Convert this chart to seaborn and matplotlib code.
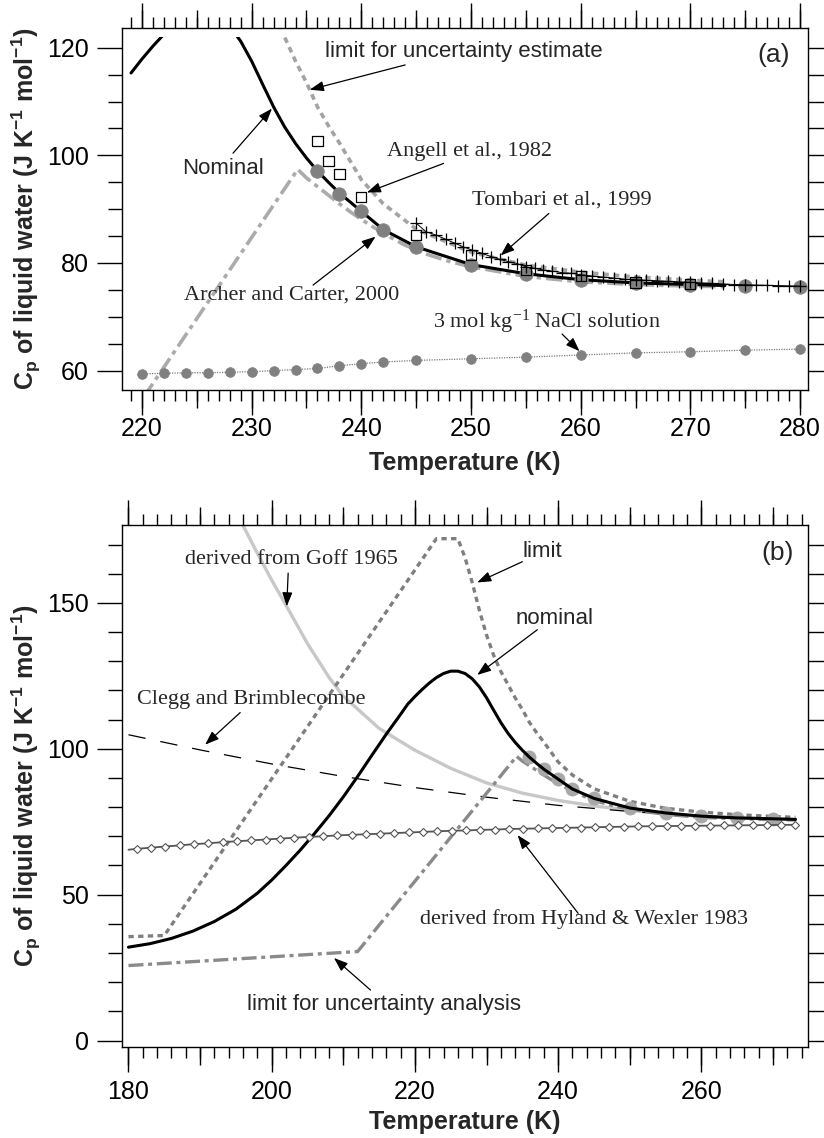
import numpy as np
import pandas as pd
import matplotlib
matplotlib.use("Agg")
import matplotlib.pyplot as plt
from matplotlib.patches import Rectangle
from matplotlib.ticker import MultipleLocator
import seaborn as sns

# ---------------- data ----------------
nominal_T = [180, 183, 186, 189, 192, 195, 198, 200, 202, 204, 206, 208, 210, 212, 214, 216, 218,
             219, 220, 221, 222, 223, 224, 225, 226, 227, 228, 229, 230, 231, 232, 233, 234, 235,
             236, 237, 238, 240, 242, 245, 250, 255, 260, 265, 270, 273.15]
nominal_cp = [32.0, 33.2, 35.0, 37.5, 40.8, 45.0, 50.5, 55.0, 60.0, 65.3, 71.0, 77.0, 83.5, 90.5,
              97.8, 105.0, 111.8, 115.3, 117.9, 120.3, 122.5, 124.4, 125.8, 126.6, 126.6, 125.8,
              124.0, 121.2, 117.5, 113.2, 109.0, 105.3, 102.2, 99.5, 97.1, 95.0, 93.0, 89.6, 86.2,
              83.0, 79.7, 78.0, 76.9, 76.3, 76.0, 75.8]

limit_T = [180, 185, 223, 226, 227, 228, 229, 230, 231, 232, 233, 234, 235, 236, 237, 238, 240,
           242, 245, 250, 255, 260, 265, 270, 273.15]
limit_cp = [35.6, 36.0, 172.0, 172.0, 165.5, 157.0, 147.5, 139.0, 132.0, 126.5, 122.0, 117.5,
            113.5, 109.0, 105.5, 102.3, 95.5, 91.0, 86.3, 82.0, 79.6, 78.3, 77.4, 76.8, 76.5]

unc_T = [180, 212, 234.2, 235, 236, 237, 238, 239, 240, 242, 244, 246, 248, 250, 255, 260, 265,
         270, 273.15]
unc_cp = [25.7, 30.5, 97.4, 95.8, 94.2, 92.6, 91.0, 89.5, 88.1, 85.5, 83.3, 81.6, 80.3, 79.3,
          77.5, 76.5, 76.0, 75.7, 75.6]

archer_T = [236, 238, 240, 242, 245, 250, 255, 260, 265, 270, 275, 280]
archer_cp = [97.1, 92.9, 89.7, 86.1, 83.0, 79.6, 78.0, 76.9, 76.2, 76.0, 75.8, 75.6]

angell_T = [236, 237, 238, 240, 245, 250, 255, 260, 265, 270]
angell_cp = [102.7, 99.0, 96.5, 92.3, 85.2, 81.5, 78.7, 77.6, 76.4, 76.1]

tombari_T = [245.0, 245.9, 246.8, 247.7, 248.5, 249.3, 250.1, 251.0, 251.8, 252.6, 253.4, 254.2,
             255.0, 255.8, 256.6, 257.4, 258.3, 259.1, 260.0, 261, 262, 263, 264, 265, 266, 267,
             268, 269, 270, 271, 272, 273, 274, 275, 276, 277, 278, 279, 280]
tombari_cp = [87.4, 85.8, 85.2, 84.4, 83.7, 83.0, 82.4, 81.8, 81.2, 80.7, 80.25, 79.9, 79.3, 79.0,
              78.7, 78.5, 78.2, 78.1, 77.8, 77.6, 77.4, 77.2, 77.0, 76.9, 76.8, 76.7, 76.6, 76.5,
              76.4, 76.3, 76.2, 76.1, 76.0, 75.95, 75.9, 75.85, 75.8, 75.75, 75.7]

nacl_T = [220, 222, 224, 226, 228, 230, 232, 234, 236, 238, 240, 242, 245, 250, 255, 260, 265,
          270, 275, 280]
nacl_cp = [59.4, 59.5, 59.6, 59.6, 59.7, 59.8, 60.0, 60.2, 60.4, 60.9, 61.3, 61.6, 61.9, 62.2,
           62.5, 62.9, 63.3, 63.5, 63.8, 64.0]

goff_T = [195, 196, 198, 200, 202, 205, 208, 210, 215, 220, 225, 230, 235, 240, 245, 250, 255,
          260, 265, 270, 273.15]
goff_cp = [181.0, 176.5, 167.0, 157.8, 149.2, 136.0, 124.5, 118.0, 107.0, 99.5, 93.3, 88.3, 84.8,
           82.3, 80.4, 79.0, 77.6, 76.8, 76.3, 75.9, 75.7]

clegg_T = [180, 190, 200, 210, 220, 230, 240, 250, 260, 270, 273.15]
clegg_cp = [104.8, 99.6, 94.8, 90.5, 86.7, 83.4, 80.6, 78.5, 77.0, 76.0, 75.8]

hyland_T = [180, 181.15, 183.15, 185.15, 187.15, 189.15, 191.15, 193.15, 195.15, 197.15, 199.15,
            201.15, 203.15, 205.15, 207.15, 209.15, 211.15, 213.15, 215.15, 217.15, 219.15,
            221.15, 223.15, 225.15, 227.15, 229.15, 231.15, 233.15, 235.15, 237.15, 239.15,
            241.15, 243.15, 245.15, 247.15, 249.15, 251.15, 253.15, 255.15, 257.15, 259.15,
            261.15, 263.15, 265.15, 267.15, 269.15, 271.15, 273.15]
hyland_cp = [65.4, 65.7, 66.1, 66.5, 66.9, 67.3, 67.6, 68.0, 68.3, 68.6, 68.9, 69.2, 69.5, 69.8,
             70.0, 70.3, 70.5, 70.7, 70.9, 71.1, 71.3, 71.5, 71.7, 71.9, 72.0, 72.2, 72.3, 72.5,
             72.6, 72.7, 72.8, 72.9, 73.0, 73.1, 73.2, 73.3, 73.4, 73.45, 73.5, 73.55, 73.6,
             73.65, 73.7, 73.75, 73.8, 73.85, 73.9, 73.95]

# ---------------- style ----------------
sns.set_theme(style="ticks")
plt.rcParams["font.family"] = ["Liberation Sans", "DejaVu Sans"]
plt.rcParams["axes.edgecolor"] = "black"
plt.rcParams["axes.linewidth"] = 1.0
plt.rcParams["xtick.color"] = "black"
plt.rcParams["ytick.color"] = "black"

SANS = "Liberation Sans"
SERIF = "Liberation Serif"
FS = 16

fig = plt.figure(figsize=(8.24, 11.38), dpi=100)
axA = fig.add_axes([0.1481, 0.6573, 0.8325, 0.3178])
axB = fig.add_axes([0.1481, 0.0800, 0.8325, 0.4587])

ylabel = r"C$\mathregular{_p}$ of liquid water (J K$\mathregular{^{-1}}$ mol$\mathregular{^{-1}}$)"


def setup(ax, xlim, ylim, xmaj, xmed, xmin, ymaj, ymin, yright, xpad, xlabpad):
    ax.set_xlim(*xlim)
    ax.set_ylim(*ylim)
    # medium x ticks (top and bottom)
    axm = ax.twiny()
    axm.set_xlim(*xlim)
    axm.xaxis.set_major_locator(MultipleLocator(xmed))
    axm.xaxis.set_minor_locator(plt.NullLocator())
    axm.tick_params(axis="x", which="major", direction="out", top=True, bottom=True,
                    length=13, width=1, labeltop=False, labelbottom=False)
    for s in axm.spines.values():
        s.set_visible(False)
    # right ticks
    axr = ax.twinx()
    axr.set_ylim(*ylim)
    axr.yaxis.set_major_locator(MultipleLocator(yright))
    axr.yaxis.set_minor_locator(plt.NullLocator())
    axr.tick_params(axis="y", which="major", direction="out", right=True, left=False,
                    length=14, width=1, labelright=False, labelleft=False)
    for s in axr.spines.values():
        s.set_visible(False)

    ax.xaxis.set_major_locator(MultipleLocator(xmaj))
    ax.xaxis.set_minor_locator(MultipleLocator(xmin))
    ax.yaxis.set_major_locator(MultipleLocator(ymaj))
    ax.yaxis.set_minor_locator(MultipleLocator(ymin))
    ax.tick_params(axis="x", which="both", direction="out", top=True, bottom=True,
                   labeltop=False, labelbottom=True, width=1, labelsize=18, pad=xpad)
    ax.tick_params(axis="x", which="major", length=18)
    ax.tick_params(axis="x", which="minor", length=8)
    ax.tick_params(axis="y", which="both", direction="out", left=True, right=False,
                   width=1, labelsize=18, pad=6)
    ax.tick_params(axis="y", which="major", length=18)
    ax.tick_params(axis="y", which="minor", length=10)
    for s in ax.spines.values():
        s.set_visible(True)
        s.set_color("black")
        s.set_linewidth(1.0)
    ax.set_xlabel("Temperature (K)", fontsize=18, fontweight="bold", labelpad=xlabpad)
    ax.set_ylabel(ylabel, fontsize=18, fontweight="bold", labelpad=3)


def arrow(ax, head, tail):
    ax.annotate("", xy=head, xytext=tail,
                arrowprops=dict(arrowstyle="-|>,head_length=0.6,head_width=0.22",
                                color="black", lw=0.9, mutation_scale=14,
                                shrinkA=0, shrinkB=0), zorder=6)


def line(ax, x, y, **kw):
    sns.lineplot(x=x, y=y, ax=ax, estimator=None, sort=False, legend=False, **kw)
    return ax.lines[-1]


def subset(xs, ys, lo, hi):
    d = pd.DataFrame({"x": xs, "y": ys})
    d = d[(d.x >= lo) & (d.x <= hi)]
    return d.x.to_numpy(), d.y.to_numpy()


# ---------------- panel (a) ----------------
xlimA, ylimA = (218.18, 280.73), (56.4, 123.6)
setup(axA, xlimA, ylimA, 10, 5, 1, 20, 5, 5, 1.5, 7)


def clipA():
    return Rectangle((xlimA[0], ylimA[0]), xlimA[1] - xlimA[0], 121.9 - ylimA[0],
                     transform=axA.transData)


l = line(axA, unc_T, unc_cp, color="#ababab", lw=2.6,
         linestyle=(0, (4.5, 1.4, 1.2, 1.4)), zorder=2)
l.set_clip_path(clipA())
l = line(axA, limit_T, limit_cp, color="#a3a3a3", lw=2.6,
         linestyle=(0, (1.6, 1.3)), zorder=2)
l.set_clip_path(clipA())
nx, ny = subset(nominal_T, nominal_cp, 219, 300)
l = line(axA, nx, ny, color="black", lw=2.2, zorder=3)
l.set_clip_path(clipA())

line(axA, nacl_T, nacl_cp, color="#7a7a7a", lw=0.9, linestyle=(0, (1, 1)),
     marker="o", ms=7, mfc="#808080", mec="#808080", mew=0.5, zorder=3)
sns.scatterplot(x=archer_T, y=archer_cp, ax=axA, s=95, color="#808080",
                edgecolor="#808080", linewidth=0.5, zorder=4, legend=False)
line(axA, tombari_T, tombari_cp, color="black", lw=0.7, marker="+", ms=9, mew=0.9,
     mec="black", zorder=5)
sns.scatterplot(x=angell_T, y=angell_cp, ax=axA, marker="s", s=55, facecolor="none",
                edgecolor="black", linewidth=0.9, zorder=6, legend=False)

axA.text(236.7, 119.3, "limit for uncertainty estimate", family=SANS, fontsize=FS,
         ha="left", va="center")
axA.text(277.6, 118.6, "(a)", family=SANS, fontsize=19, ha="center", va="center")
axA.text(223.7, 97.6, "Nominal", family=SANS, fontsize=FS, ha="left", va="center")
axA.text(242.3, 100.7, "Angell et al., 1982", family=SERIF, fontsize=FS, ha="left", va="center")
axA.text(250.1, 91.7, "Tombari et al., 1999", family=SERIF, fontsize=FS, ha="left", va="center")
axA.text(223.85, 74.0, "Archer and Carter, 2000", family=SERIF, fontsize=FS, ha="left",
         va="center")
axA.text(246.5, 69.1, r"3 mol kg$\mathregular{^{-1}}$ NaCl solution", family=SERIF,
         fontsize=FS, ha="left", va="center")

arrow(axA, (235.3, 112.2), (244.0, 116.8))
arrow(axA, (231.85, 108.7), (228.3, 100.4))
arrow(axA, (240.5, 93.1), (247.5, 98.5))
arrow(axA, (252.7, 81.4), (257.1, 89.2))
arrow(axA, (241.3, 84.9), (235.6, 75.9))
arrow(axA, (259.9, 63.6), (258.3, 66.8))

# ---------------- panel (b) ----------------
setup(axB, (179.1, 274.9), (-2.2, 176.7), 20, 10, 2, 50, 10, 10, 6, 4)

line(axB, goff_T, goff_cp, color="#c8c8c8", lw=2.4, zorder=2)
line(axB, clegg_T, clegg_cp, color="black", lw=0.9, linestyle=(0, (14, 12)), zorder=2)
line(axB, unc_T, unc_cp, color="#8a8a8a", lw=2.4, linestyle=(0, (4.5, 1.4, 1.2, 1.4)),
     zorder=2)
line(axB, limit_T, limit_cp, color="#7f7f7f", lw=2.4, linestyle=(0, (1.6, 1.3)), zorder=2)
ax_, ay_ = subset(archer_T, archer_cp, 0, 273.15)
sns.scatterplot(x=ax_, y=ay_, ax=axB, s=90, color="#a8a8a8",
                edgecolor="#a8a8a8", linewidth=0.5, zorder=2, legend=False)
line(axB, nominal_T, nominal_cp, color="black", lw=2.2, zorder=3)
line(axB, hyland_T, hyland_cp, color="#555555", lw=1.3, marker="D", ms=3.8, mfc="white",
     mec="#555555", mew=0.8, markevery=slice(1, None), zorder=4)

axB.text(187.9, 164.7, "derived from Goff 1965", family=SERIF, fontsize=FS, ha="left",
         va="center")
axB.text(235.0, 167.6, "limit", family=SANS, fontsize=FS, ha="left", va="center")
axB.text(270.6, 167.1, "(b)", family=SANS, fontsize=19, ha="center", va="center")
axB.text(234.1, 144.8, "nominal", family=SANS, fontsize=FS, ha="left", va="center")
axB.text(181.15, 117.0, "Clegg and Brimblecombe", family=SERIF, fontsize=FS, ha="left",
         va="center")
axB.text(220.7, 41.7, "derived from Hyland & Wexler 1983", family=SERIF, fontsize=FS,
         ha="left", va="center")
axB.text(196.6, 12.3, "limit for uncertainty analysis", family=SANS, fontsize=FS,
         ha="left", va="center")

arrow(axB, (202.1, 148.8), (202.3, 160.2))
arrow(axB, (190.7, 101.4), (195.6, 112.4))
arrow(axB, (228.7, 157.0), (235.0, 164.1))
arrow(axB, (228.7, 125.3), (237.1, 140.8))
arrow(axB, (234.35, 70.4), (242.8, 43.6))
arrow(axB, (208.7, 28.3), (213.8, 17.3))

fig.savefig("out.png", dpi=100)
